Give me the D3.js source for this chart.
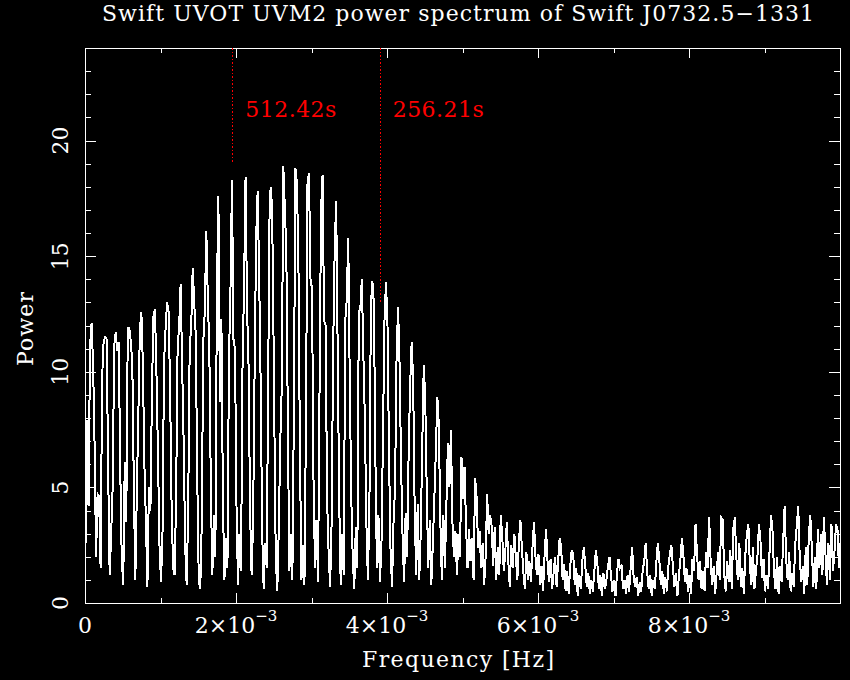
<!DOCTYPE html>
<html>
<head>
<meta charset="utf-8">
<script src="https://cdn.jsdelivr.net/npm/d3@7"></script>
<style>
body { margin: 0; background: #000; }
svg { display: block; background: #000; }
text { font-family: "DejaVu Serif", serif; fill: #fff; }
</style>
</head>
<body>
<svg id="espectro" width="850" height="680"></svg>
<script>
"use strict"
var titulo = "Swift UVOT UVM2 power spectrum of Swift J0732.5\u22121331";
var rotuloX = "Frequency [Hz]", rotuloY = "Power";

// power spectrum, one value per frequency bin (bin width freqPasso Hz, first bin at 0)
var freqPasso = 2e-5;
var potencia = [
  2.5, 7.9, 4.2, 11.1, 12.1, 10.4, 6.9, 2.0, 4.7, 4.6,
  1.5, 9.7, 11.3, 11.5, 11.4, 5.8, 1.2, 3.0, 5.0, 11.1,
  11.7, 10.9, 11.3, 5.9, 1.9, 0.8, 6.1, 3.5, 11.9, 11.9,
  11.3, 10.4, 5.1, 1.0, 4.8, 8.1, 11.8, 12.6, 10.3, 6.0,
  3.6, 0.7, 5.0, 4.0, 9.1, 12.4, 12.7, 9.9, 6.4, 2.5,
  0.9, 3.0, 10.4, 11.8, 13.0, 12.6, 9.4, 4.3, 1.5, 1.2,
  4.5, 11.1, 11.9, 13.8, 10.3, 7.0, 2.5, 0.8, 4.0, 11.1,
  11.9, 14.5, 13.0, 11.6, 5.5, 1.0, 0.6, 3.5, 11.3, 12.6,
  16.1, 13.2, 11.0, 5.0, 1.2, 3.8, 2.0, 13.3, 17.6, 8.7,
  12.3, 4.4, 1.0, 2.8, 1.5, 10.5, 13.5, 18.3, 11.4, 11.0,
  4.2, 0.8, 3.0, 1.4, 10.3, 13.7, 18.4, 12.7, 10.2, 3.9,
  1.2, 3.5, 10.1, 15.8, 17.8, 14.2, 9.5, 3.1, 0.6, 2.6,
  1.5, 9.8, 17.7, 18.0, 15.1, 8.2, 2.0, 0.5, 3.2, 7.0,
  9.4, 18.9, 17.1, 15.2, 7.8, 1.4, 3.0, 1.0, 8.4, 18.8,
  18.2, 14.8, 6.6, 1.0, 2.5, 0.8, 7.9, 18.1, 18.6, 14.0,
  13.6, 5.3, 1.5, 3.6, 0.9, 9.3, 17.0, 18.5, 12.2, 12.0,
  4.5, 2.2, 0.7, 3.5, 10.9, 15.2, 17.4, 11.0, 4.5, 0.8,
  3.0, 1.2, 12.2, 13.1, 15.8, 9.6, 4.6, 1.9, 0.6, 3.3,
  1.5, 12.6, 12.7, 14.0, 10.8, 8.0, 3.5, 1.0, 4.0, 12.9,
  13.9, 12.9, 6.2, 1.5, 3.8, 0.9, 2.5, 7.3, 12.2, 13.9,
  12.0, 6.5, 2.3, 0.7, 3.5, 5.0, 10.6, 12.8, 10.3, 6.0,
  2.8, 0.9, 3.9, 2.0, 6.5, 9.4, 11.3, 9.6, 4.0, 1.2,
  4.3, 1.0, 3.0, 6.7, 10.3, 8.8, 4.8, 1.5, 3.6, 0.8,
  2.5, 4.5, 6.5, 8.9, 7.7, 3.5, 1.0, 3.8, 1.5, 4.2,
  6.9, 5.0, 7.5, 3.5, 2.0, 3.1, 1.2, 3.0, 2.0, 6.3,
  4.5, 5.9, 3.4, 1.5, 3.2, 1.8, 2.8, 1.0, 5.4, 4.6,
  2.4, 3.1, 1.5, 2.6, 0.8, 2.0, 4.7, 3.0, 3.8, 3.3,
  1.6, 3.3, 1.0, 2.4, 1.2, 3.8, 2.9, 1.4, 2.2, 3.5,
  1.8, 0.7, 2.5, 1.5, 3.0, 2.0, 1.0, 2.6, 3.6, 2.4,
  1.3, 0.6, 2.2, 1.0, 1.8, 0.9, 2.4, 3.5, 2.0, 1.2,
  2.1, 0.8, 1.6, 0.5, 2.0, 3.2, 1.8, 0.9, 1.9, 0.6,
  1.3, 2.0, 0.7, 1.8, 2.8, 2.4, 1.0, 1.7, 0.5, 1.4,
  0.4, 1.6, 2.3, 2.1, 0.8, 1.5, 0.3, 1.2, 0.6, 1.8,
  2.4, 1.6, 0.7, 1.3, 0.4, 1.0, 0.5, 1.4, 2.3, 1.7,
  0.6, 1.2, 0.3, 1.3, 0.6, 1.0, 1.6, 2.0, 1.2, 0.5,
  1.0, 0.3, 1.3, 1.9, 1.5, 1.6, 0.6, 1.0, 0.4, 1.2,
  0.5, 1.5, 2.4, 1.1, 0.7, 1.1, 0.3, 0.9, 0.5, 1.4,
  1.8, 2.6, 1.3, 0.6, 1.2, 0.3, 1.0, 0.6, 1.7, 2.6,
  1.9, 0.8, 1.4, 0.4, 1.1, 0.5, 1.6, 2.1, 2.5, 1.6,
  0.7, 1.3, 0.3, 1.2, 1.9, 2.8, 2.0, 0.9, 1.5, 0.5,
  1.2, 0.4, 1.9, 1.4, 3.4, 2.1, 1.0, 1.8, 0.6, 1.4,
  0.5, 2.2, 1.5, 3.7, 1.8, 0.8, 1.6, 0.4, 1.3, 2.2,
  1.0, 3.7, 3.6, 1.2, 0.5, 1.8, 0.9, 2.3, 0.6, 3.2,
  3.7, 2.0, 1.0, 2.6, 0.7, 1.5, 0.4, 2.1, 3.0, 3.4,
  1.6, 0.8, 2.4, 0.6, 1.4, 2.0, 3.4, 2.7, 1.1, 1.9,
  0.5, 1.2, 0.6, 2.2, 3.8, 3.1, 1.3, 0.6, 2.0, 0.4,
  1.6, 0.9, 2.6, 4.2, 1.9, 1.0, 2.2, 0.5, 1.3, 0.7,
  2.5, 3.3, 4.2, 2.0, 0.9, 1.6, 0.4, 2.4, 0.8, 2.9,
  3.8, 2.4, 0.7, 2.0, 0.6, 3.2, 1.5, 3.0, 1.2, 3.7,
  2.2, 0.8, 2.6, 1.0, 3.4, 1.4, 2.2, 3.4, 3.2, 1.5,
  2.6
];

var ticksXMaior = [0, 0.002, 0.004, 0.006, 0.008, 0.01];
var ticksXMenor = [0.001, 0.003, 0.005, 0.007, 0.009];
var rotulosX = [["0", ""], ["2\u00d710", "\u22123"], ["4\u00d710", "\u22123"], ["6\u00d710", "\u22123"], ["8\u00d710", "\u22123"]];
var ticksYMaior = [0, 5, 10, 15, 20];
var ticksYMenor = [1, 2, 3, 4, 6, 7, 8, 9, 11, 12, 13, 14, 16, 17, 18, 19, 21, 22, 23];

// marked periods (s) and the power where each dotted marker stops
var periodos = [512.42, 256.21];
var rotulosPeriodo = ["512.42s", "256.21s"];
var fimMarca = [19, 13];

var svg = d3.select("svg#espectro");

var x = d3.scaleLinear().domain([0, 0.01]).range([85, 840]);
var y = d3.scaleLinear().domain([0, 24]).range([603, 48]);

// title
svg.append("text")
    .attr("x", 102).attr("y", 21)
    .attr("font-size", 22)
    .attr("textLength", 712)
    .text(titulo);

// spectrum (clipped to the frame)
svg.append("clipPath").attr("id", "quadro")
  .append("rect")
    .attr("x", 86).attr("y", 48)
    .attr("width", 754).attr("height", 555);

var linha = d3.line()
    .x(function(d, i) { return x(i * freqPasso); })
    .y(function(d) { return y(d); });

svg.append("g")
    .attr("clip-path", "url(#quadro)")
  .append("path")
    .datum(potencia)
    .attr("transform", "translate(0.5,0)")
    .attr("fill", "none")
    .attr("stroke", "#fff")
    .attr("stroke-width", 2)
    .attr("stroke-linejoin", "miter")
    .attr("shape-rendering", "crispEdges")
    .attr("d", linha);

// ticks on all four sides, pointing inwards
function eixo(gerador, tx, ty, valores, tam) {
  var g = svg.append("g")
      .attr("transform", "translate(" + tx + "," + ty + ")")
      .style("color", "#fff")
      .attr("shape-rendering", "crispEdges")
      .call(gerador.tickValues(valores).tickSize(-tam).tickFormat(""));
  g.select(".domain").remove();
}
eixo(d3.axisBottom(x), 0, 603, ticksXMaior, 10);
eixo(d3.axisBottom(x), 0, 603, ticksXMenor, 5);
eixo(d3.axisTop(x), 0, 48, ticksXMaior, 10);
eixo(d3.axisTop(x), 0, 48, ticksXMenor, 5);
eixo(d3.axisLeft(y), 85, 0, ticksYMaior, 11);
eixo(d3.axisLeft(y), 85, 0, ticksYMenor, 6);
eixo(d3.axisRight(y), 840, 0, ticksYMaior, 11);
eixo(d3.axisRight(y), 840, 0, ticksYMenor, 6);

// frame
svg.append("rect")
    .attr("x", 85.5).attr("y", 48.5)
    .attr("width", 755).attr("height", 555)
    .attr("fill", "none")
    .attr("stroke", "#fff")
    .attr("shape-rendering", "crispEdges");

// x tick labels with exponent
svg.append("g").selectAll("text")
    .data(rotulosX)
  .enter().append("text")
    .attr("x", function(d, i) { return x(ticksXMaior[i]); })
    .attr("y", 633)
    .attr("text-anchor", "middle")
    .attr("font-size", 22)
    .each(function(d) {
      var t = d3.select(this);
      t.append("tspan").text(d[0]);
      if (d[1]) t.append("tspan").attr("dy", -12).attr("font-size", 15).text(d[1]);
    });

// y tick labels, parallel to the axis
svg.append("g").selectAll("text")
    .data(ticksYMaior)
  .enter().append("text")
    .attr("transform", function(d) { return "translate(68," + y(d) + ") rotate(-90)"; })
    .attr("text-anchor", "middle")
    .attr("font-size", 22)
    .text(function(d) { return d; });

// axis titles
svg.append("text")
    .attr("x", 458).attr("y", 667)
    .attr("text-anchor", "middle")
    .attr("font-size", 22)
    .attr("textLength", 192)
    .text(rotuloX);

svg.append("text")
    .attr("transform", "translate(33,329) rotate(-90)")
    .attr("text-anchor", "middle")
    .attr("font-size", 22)
    .attr("textLength", 74)
    .text(rotuloY);

// period markers
var marcas = svg.append("g").selectAll("g")
    .data(periodos)
  .enter().append("g");

marcas.append("line")
    .attr("x1", function(d) { return Math.round(x(1 / d)) + 0.5; })
    .attr("x2", function(d) { return Math.round(x(1 / d)) + 0.5; })
    .attr("y1", y(24))
    .attr("y2", function(d, i) { return y(fimMarca[i]); })
    .attr("stroke", "#f00")
    .attr("stroke-width", 1)
    .attr("stroke-dasharray", "1.5,2")
    .attr("shape-rendering", "crispEdges");

marcas.append("text")
    .attr("x", function(d) { return x(1 / d) + 13; })
    .attr("y", y(21))
    .attr("font-size", 22)
    .attr("textLength", 91)
    .style("fill", "#f00")
    .text(function(d, i) { return rotulosPeriodo[i]; });
</script>
</body>
</html>
